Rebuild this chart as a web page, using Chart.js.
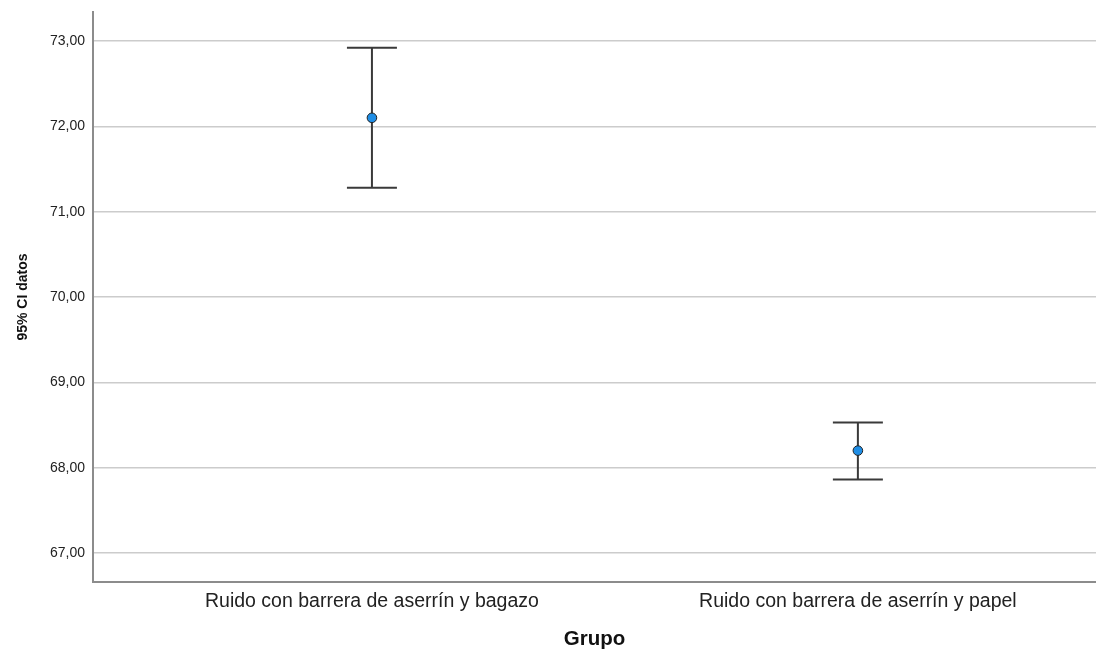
<!DOCTYPE html>
<html>
<head>
<meta charset="utf-8">
<script src="https://cdn.jsdelivr.net/npm/chart.js@4.4.1/dist/chart.umd.min.js"></script>
<style>
  html, body { margin: 0; padding: 0; background: #ffffff; }
  #wrap { width: 1096px; height: 652px; }
</style>
</head>
<body>
<div id="wrap"><canvas id="c" width="1096" height="652"></canvas></div>
<script>
// Groups and their 95% confidence intervals
const groups = ['Ruido con barrera de aserrín y bagazo', 'Ruido con barrera de aserrín y papel'];
const groupPos = [1, 2];
const means = [72.10, 68.20];
const lowerCI = [71.28, 67.86];
const upperCI = [72.92, 68.53];
const yTicks = [67, 68, 69, 70, 71, 72, 73];

const fmt = v => v.toFixed(2).replace('.', ',');

// Whiskers with end caps, drawn behind the mean markers
const errorBars = {
  id: 'errorBars',
  beforeDatasetsDraw(chart) {
    const { ctx, scales: { x, y } } = chart;
    const cap = 25;
    ctx.save();
    ctx.strokeStyle = '#3a3a3a';
    ctx.lineWidth = 2;
    groupPos.forEach((g, i) => {
      const px = x.getPixelForValue(g);
      const top = y.getPixelForValue(upperCI[i]);
      const bot = y.getPixelForValue(lowerCI[i]);
      ctx.beginPath();
      ctx.moveTo(px, top); ctx.lineTo(px, bot);
      ctx.moveTo(px - cap, top); ctx.lineTo(px + cap, top);
      ctx.moveTo(px - cap, bot); ctx.lineTo(px + cap, bot);
      ctx.stroke();
    });
    ctx.restore();
  }
};

new Chart(document.getElementById('c'), {
  type: 'scatter',
  data: {
    datasets: [{
      data: groupPos.map((g, i) => ({ x: g, y: means[i] })),
      pointRadius: 4.8,
      pointHoverRadius: 4.8,
      pointBackgroundColor: '#1f8ee6',
      pointBorderColor: '#222222',
      pointBorderWidth: 1
    }]
  },
  options: {
    responsive: false,
    animation: false,
    events: [],
    layout: { autoPadding: false, padding: { top: 12, right: 0, left: 0, bottom: 0 } },
    plugins: { legend: { display: false }, tooltip: { enabled: false } },
    scales: {
      x: {
        type: 'linear',
        min: 0.426,
        max: 2.49,
        afterBuildTicks: s => { s.ticks = groupPos.map(v => ({ value: v })); },
        afterFit: s => { s.height = 70; s.paddingLeft = 0; s.paddingRight = 0; },
        grid: { display: false, drawTicks: false },
        border: { display: true, color: '#8c8c8c', width: 2 },
        ticks: {
          padding: 8,
          color: '#222222',
          font: { family: 'Liberation Sans', size: 19.5 },
          maxRotation: 0,
          callback: v => groups[groupPos.indexOf(v)] ?? ''
        },
        title: {
          display: true,
          text: 'Grupo',
          color: '#111111',
          font: { family: 'Liberation Sans', size: 20.5, weight: 'bold' },
          padding: { top: 0, bottom: 0 }
        }
      },
      y: {
        min: 66.66,
        max: 73.34,
        afterBuildTicks: s => { s.ticks = yTicks.map(v => ({ value: v })); },
        afterFit: s => { s.width = 93; s.paddingTop = 0; s.paddingBottom = 0; },
        grid: { color: '#cccccc', lineWidth: 1.5, drawTicks: false },
        border: { display: true, color: '#8c8c8c', width: 2 },
        ticks: {
          padding: 8,
          color: '#222222',
          font: { family: 'Liberation Sans', size: 14 },
          callback: v => fmt(v)
        },
        title: {
          display: true,
          text: '95% CI datos',
          color: '#111111',
          font: { family: 'Liberation Sans', size: 14, weight: 'bold' },
          padding: { top: 15, bottom: 4 }
        }
      }
    }
  },
  plugins: [errorBars]
});
</script>
</body>
</html>
